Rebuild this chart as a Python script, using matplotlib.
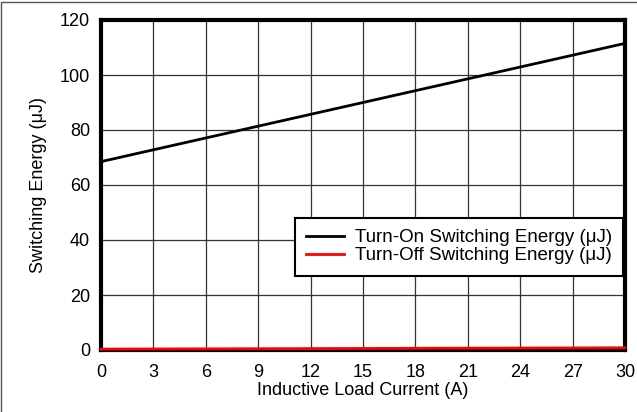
import matplotlib.pyplot as plt
from matplotlib.patches import Rectangle

plt.rcParams['font.family'] = ['Liberation Sans', 'DejaVu Sans']

# corrente (A) e energias (uJ)
corrente = [0, 3, 6, 9, 12, 15, 18, 21, 24, 27, 30]
energia_on = [68.5, 72.8, 77.1, 81.4, 85.7, 90.0, 94.3, 98.6, 102.9, 107.2, 111.5]
energia_off = [0.3, 0.35, 0.4, 0.45, 0.5, 0.55, 0.6, 0.65, 0.7, 0.75, 0.8]

fig = plt.figure(figsize=(6.37, 4.12), dpi=100)
ax = fig.add_axes([101/637, 1 - 350/412, (625-101)/637, (350-20)/412])

ax.plot(corrente, energia_on, color='black', lw=2, label='Turn-On Switching Energy (\u03bcJ)')
ax.plot(corrente, energia_off, color='red', lw=2, zorder=3, clip_on=False,
        label='Turn-Off Switching Energy (\u03bcJ)')

ax.set_xlim(0, 30)
ax.set_ylim(0, 120)
ax.set_xticks(range(0, 31, 3))
ax.set_yticks(range(0, 121, 20))
ax.grid(True, color='#333333', lw=0.9)
ax.tick_params(length=0, labelsize=13)
ax.tick_params(axis='x', pad=10)
ax.tick_params(axis='y', pad=8)
for s in ax.spines.values():
    s.set_linewidth(3)

ax.set_xlabel('Inductive Load Current (A)', fontsize=13, labelpad=1)
ax.set_ylabel('Switching Energy (\u03bcJ)', fontsize=13, labelpad=9)

leg = ax.legend(loc='lower right', bbox_to_anchor=(1.0, 0.22), fontsize=13.5,
                fancybox=False, framealpha=1, edgecolor='black',
                handlelength=2.0, handletextpad=0.6, borderpad=0.6,
                labelspacing=0.05, borderaxespad=0.1)
leg.get_frame().set_linewidth(1.5)

# moldura externa da figura
fig.patches.append(Rectangle((0.002, -0.1), 1.1, 1.095, transform=fig.transFigure,
                             fill=False, edgecolor='#555555', lw=1))

fig.savefig('out.png', dpi=100)
